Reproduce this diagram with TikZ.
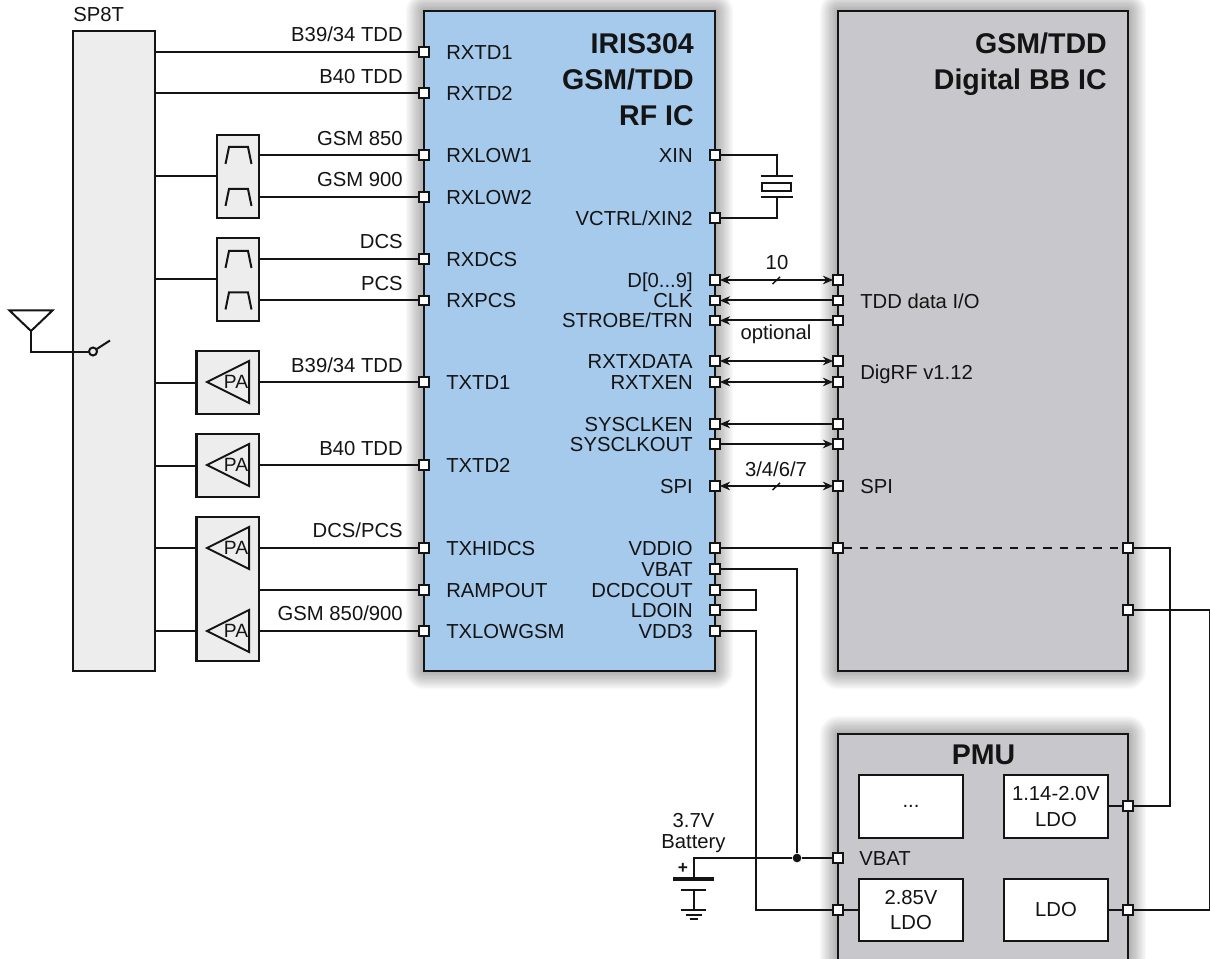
\documentclass[tikz,border=0pt]{standalone}
\usepackage{fontspec}
\setmainfont{Liberation Sans}
\usetikzlibrary{arrows.meta}
\definecolor{icblue}{RGB}{166,202,236}
\definecolor{icgrey}{RGB}{200,200,204}
\definecolor{lightbox}{RGB}{237,237,237}
\definecolor{ink}{RGB}{20,20,20}
\newcommand{\fsmall}{\fontsize{15.2}{19}\selectfont}
\newcommand{\fbig}{\fontsize{21.4}{27}\selectfont\bfseries}
\tikzset{
  wire/.style={draw=ink,line width=1.5pt},
  block/.style={draw=ink,line width=1.6pt,inner sep=0pt,outer sep=0pt,anchor=north west,align=center,font=\fsmall,text=ink},
  pinbox/.style={draw=ink,fill=white,line width=1.5pt,rectangle,minimum size=7.4pt,inner sep=0pt,outer sep=0pt},
  txt/.style={font=\fsmall,text=ink,inner sep=0pt,text height=10.9pt,text depth=0pt},
  lbl/.style={txt,anchor=east},
  rlbl/.style={txt,anchor=west},
  title/.style={font=\fbig,text=ink,inner sep=0pt,text height=15.5pt,text depth=0pt,anchor=east},
  harrow/.style={wire,{Stealth[length=7.6pt,width=6.4pt]}-{Stealth[length=7.6pt,width=6.4pt]}},
  larrow/.style={wire,{Stealth[length=7.6pt,width=6.4pt]}-},
  rarrow/.style={wire,-{Stealth[length=7.6pt,width=6.4pt]}},
  symbol/.style={draw=ink,line width=1.5pt,line join=miter},
  dotnode/.style={circle,fill=ink,minimum size=6.5pt,inner sep=0pt}
}
% block between two corners (px): style, name, x1, y1, x2, y2, text
\newcommand{\blockat}[7]{\node[block,#1,minimum width={(#5-#3)*0.75pt},minimum height={(#6-#4)*0.75pt},text width={(#5-#3)*0.75pt}] (#2) at (#3,#4) {#7};}
\newcommand{\softshadow}[4]{\foreach \i in {1,...,14}{\fill[black,opacity=.024,rounded corners={\i*1.0pt}] ({#1-\i*1.3},{#2-\i*1.3}) rectangle ({#3+\i*1.3},{#4+\i*1.3});}}
\newcommand{\pa}[2]{% name, y
  \draw[symbol] (207,#2) -- (249,#2-21) -- (249,#2+21) -- cycle;
  \node[font=\fontsize{14.4}{16}\selectfont,text=ink,inner sep=0pt] (#1) at (236,#2) {PA};}
\newcommand{\bandpass}[1]{\draw[symbol] (225.5,#1+9) -- (229,#1-8) -- (248,#1-8) -- (251.5,#1+9);}
\begin{document}
\begin{tikzpicture}[x=.75pt,y=-.75pt]
\clip (0,0) rectangle (1210,959);
\fill[white] (0,0) rectangle (1210,959);
% shadows
\softshadow{424}{11}{715}{671}
\softshadow{838}{11}{1128}{671}
\softshadow{838}{734}{1128}{1000}
% main blocks
\blockat{fill=lightbox}{sp}{73}{31}{155}{671}{}
\blockat{fill=icblue}{ic}{424}{11}{715}{671}{}
\blockat{fill=icgrey}{bb}{838}{11}{1128}{671}{}
\blockat{fill=icgrey}{pmu}{838}{734}{1128}{1000}{}
% filters and PA
\blockat{fill=lightbox}{f1}{217}{135}{259}{218}{}
\blockat{fill=lightbox}{f2}{217}{238}{259}{321}{}
\blockat{fill=lightbox}{pa1}{196.5}{351}{259}{414}{}
\blockat{fill=lightbox}{pa2}{196.5}{434}{259}{497}{}
\blockat{fill=lightbox}{pa3}{196.5}{517}{259}{661}{}
\bandpass{155}\bandpass{197}\bandpass{259}\bandpass{300.5}
\pa{paa}{382}\pa{pab}{465}\pa{pac}{548}\pa{pad}{631}
% PMU blocks
\blockat{fill=white}{dots}{859}{775}{963}{838}{...}
\blockat{fill=white}{ldoa}{1004}{775}{1108}{838}{1.14-2.0V\\LDO}
\blockat{fill=white}{ldob}{859}{879}{963}{941}{2.85V\\LDO}
\blockat{fill=white}{ldoc}{1004}{879}{1108}{941}{LDO}
% left pins
\node[pinbox] (l1) at (424,52) {};
\node[pinbox] (l2) at (424,93) {};
\node[pinbox] (l3) at (424,155) {};
\node[pinbox] (l4) at (424,197) {};
\node[pinbox] (l5) at (424,259) {};
\node[pinbox] (l6) at (424,300.5) {};
\node[pinbox] (l7) at (424,382) {};
\node[pinbox] (l8) at (424,465) {};
\node[pinbox] (l9) at (424,548) {};
\node[pinbox] (l10) at (424,590) {};
\node[pinbox] (l11) at (424,631) {};
% right pins of the RF IC
\node[pinbox] (xin) at (715,155) {};
\node[pinbox] (xintwo) at (715,218) {};
\node[pinbox] (ra) at (715,280) {};
\node[pinbox] (rb) at (715,300.5) {};
\node[pinbox] (rc) at (715,320.5) {};
\node[pinbox] (rd) at (715,361) {};
\node[pinbox] (re) at (715,382) {};
\node[pinbox] (rf) at (715,424) {};
\node[pinbox] (rg) at (715,444) {};
\node[pinbox] (rh) at (715,486) {};
\node[pinbox] (ri) at (715,548) {};
\node[pinbox] (rj) at (715,569) {};
\node[pinbox] (rk) at (715,590) {};
\node[pinbox] (rl) at (715,610) {};
\node[pinbox] (rm) at (715,631) {};
% pins of the BB IC
\node[pinbox] (ba) at (838,280) {};
\node[pinbox] (bb1) at (838,300.5) {};
\node[pinbox] (bc) at (838,320.5) {};
\node[pinbox] (bd) at (838,361) {};
\node[pinbox] (be) at (838,382) {};
\node[pinbox] (bf) at (838,424) {};
\node[pinbox] (bg) at (838,444) {};
\node[pinbox] (bh) at (838,486) {};
\node[pinbox] (bi) at (838,548) {};
\node[pinbox] (bj) at (1128,548) {};
\node[pinbox] (bk) at (1128,610) {};
% pins of the PMU
\node[pinbox] (pv) at (838,858) {};
\node[pinbox] (pl) at (838,910) {};
\node[pinbox] (pa) at (1128,806) {};
\node[pinbox] (pc) at (1128,910) {};
% helper points
\coordinate (xtop) at (777,176);
\coordinate (xbot) at (777,197);
\coordinate (loop) at (756,600);
\coordinate (vddc) at (756,910);
\coordinate (batt) at (693.5,879);
\coordinate (rail) at (1169.5,700);
\coordinate (edgea) at (1209.5,610);
\coordinate (edgeb) at (1209.5,910);
\node[dotnode] (junc) at (797,858) {};
% antenna side connectors
\draw[wire] (sp.east |- l1) -- (l1);
\draw[wire] (sp.east |- l2) -- (l2);
\draw[wire] (f1.east |- l3) -- (l3);
\draw[wire] (f1.east |- l4) -- (l4);
\draw[wire] (f2.east |- l5) -- (l5);
\draw[wire] (f2.east |- l6) -- (l6);
\draw[wire] (pa1.east |- l7) -- (l7);
\draw[wire] (pa2.east |- l8) -- (l8);
\draw[wire] (pa3.east |- l9) -- (l9);
\draw[wire] (pa3.east |- l10) -- (l10);
\draw[wire] (pa3.east |- l11) -- (l11);
\draw[wire] (sp.east |- f1.west) -- (f1.west);
\draw[wire] (sp.east |- f2.west) -- (f2.west);
\draw[wire] (sp.east |- pa1.west) -- (pa1.west);
\draw[wire] (sp.east |- pa2.west) -- (pa2.west);
\draw[wire] (sp.east |- l9) -- (pa3.west |- l9);
\draw[wire] (sp.east |- l11) -- (pa3.west |- l11);
% antenna and switch
\draw[symbol] (9.5,310.5) -- (52.5,310.5) -- (31,331) -- cycle;
\draw[wire] (31,331) -- (31,351.5) -- (89,351.5);
\draw[symbol] (93,351.5) circle[radius=4];
\draw[symbol] (96,349.5) -- (110,340.5);
% crystal
\draw[wire] (xin.east) -| (xtop);
\draw[wire] (xintwo.east) -| (xbot);
\draw[wire] (760.5,176) -- (793,176);
\draw[wire] (760.5,197) -- (793,197);
\draw[wire] (762,183) rectangle (791,191);
% digital buses
\draw[harrow] (ra) -- (ba);
\draw[larrow] (rb) -- (bb1);
\draw[larrow] (rc) -- (bc);
\draw[harrow] (rd) -- (bd);
\draw[harrow] (re) -- (be);
\draw[larrow] (rf) -- (bf);
\draw[rarrow] (rg) -- (bg);
\draw[harrow] (rh) -- (bh);
\draw[symbol,line width=1.1pt] (772.5,284) -- (780,277);
\draw[symbol,line width=1.1pt] (772.5,490) -- (780,483);
% power
\draw[wire] (ri) -- (bi);
\draw[wire,dash pattern=on 6.5pt off 6pt] (bi) -- (bj);
\draw[wire] (bj.east) -| (rail) |- (pa.east);
\draw[wire] (bk.east) -- (edgea) -- (edgeb) -- (pc.east);
\draw[wire] (rj.east) -| (junc);
\draw[wire] (rk.east) -| (loop) |- (rl.east);
\draw[wire] (rm.east) -| (vddc) -- (pl.west);
\draw[wire] (pv.west) -- (junc) -- (junc -| batt) -- (batt);
\draw[wire] (pl.east) -- (ldob.west |- pl);
\draw[wire] (ldoa.east |- pa) -- (pa.west);
\draw[wire] (ldoc.east |- pc) -- (pc.west);
% battery
\draw[draw=ink,line width=3pt] (673,879) -- (714,879);
\draw[wire] (681,889.5) -- (706,889.5);
\draw[wire] (693.5,889.5) -- (693.5,910);
\draw[wire] (681,910) -- (706,910);
\draw[wire] (685.5,914.5) -- (702,914.5);
\draw[wire] (689.5,918.5) -- (698,918.5);
\node[font=\fontsize{13}{14}\selectfont\bfseries,text=ink,inner sep=0pt] (plus) at (683,868) {+};
% labels
\node[txt,anchor=west] (tsp) at (73,14) {SP8T};
\node[lbl] (n1) at (403,34.5) {B39/34 TDD};
\node[lbl] (n2) at (403,76) {B40 TDD};
\node[lbl] (n3) at (403,138) {GSM 850};
\node[lbl] (n4) at (403,179.5) {GSM 900};
\node[lbl] (n5) at (403,241.5) {DCS};
\node[lbl] (n6) at (403,283) {PCS};
\node[lbl] (n7) at (403,365) {B39/34 TDD};
\node[lbl] (n8) at (403,448) {B40 TDD};
\node[lbl] (n9) at (403,530.5) {DCS/PCS};
\node[lbl] (n10) at (403,613.5) {GSM 850/900};
\node[rlbl] (t1) at (446,52) {RXTD1};
\node[rlbl] (t2) at (446,93) {RXTD2};
\node[rlbl] (t3) at (446,155) {RXLOW1};
\node[rlbl] (t4) at (446,197) {RXLOW2};
\node[rlbl] (t5) at (446,259) {RXDCS};
\node[rlbl] (t6) at (446,300.5) {RXPCS};
\node[rlbl] (t7) at (446,382) {TXTD1};
\node[rlbl] (t8) at (446,465) {TXTD2};
\node[rlbl] (t9) at (446,548) {TXHIDCS};
\node[rlbl] (t10) at (446,590) {RAMPOUT};
\node[rlbl] (t11) at (446,631) {TXLOWGSM};
\node[lbl] (u1) at (693,155) {XIN};
\node[lbl] (u2) at (693,218) {VCTRL/XIN2};
\node[lbl] (u3) at (693,280) {D[0...9]};
\node[lbl] (u4) at (693,300) {CLK};
\node[lbl] (u5) at (693,320.5) {STROBE/TRN};
\node[lbl] (u6) at (693,361.5) {RXTXDATA};
\node[lbl] (u7) at (693,382) {RXTXEN};
\node[lbl] (u8) at (693,424) {SYSCLKEN};
\node[lbl] (u9) at (693,444.5) {SYSCLKOUT};
\node[lbl] (u10) at (693,486) {SPI};
\node[lbl] (u11) at (693,548) {VDDIO};
\node[lbl] (u12) at (693,569) {VBAT};
\node[lbl] (u13) at (693,590) {DCDCOUT};
\node[lbl] (u14) at (693,610) {LDOIN};
\node[lbl] (u15) at (693,631) {VDD3};
\node[rlbl] (v1) at (860,301) {TDD data I/O};
\node[rlbl] (v2) at (860,372) {DigRF v1.12};
\node[rlbl] (v3) at (860,486) {SPI};
\node[rlbl] (v4) at (859,858) {VBAT};
\node[txt] (w1) at (777,262) {10};
\node[txt] (w2) at (776,332) {optional};
\node[txt] (w3) at (776,469) {3/4/6/7};
\node[txt] (w4) at (693.5,820) {3.7V};
\node[txt] (w5) at (693.5,841.5) {Battery};
\node[title] (h1) at (694,43) {IRIS304};
\node[title] (h2) at (694,79) {GSM/TDD};
\node[title] (h3) at (694,115) {RF IC};
\node[title] (h4) at (1107,43) {GSM/TDD};
\node[title] (h5) at (1107,79) {Digital BB IC};
\node[title,anchor=center] (h6) at (983.5,754) {PMU};
\end{tikzpicture}
\end{document}
